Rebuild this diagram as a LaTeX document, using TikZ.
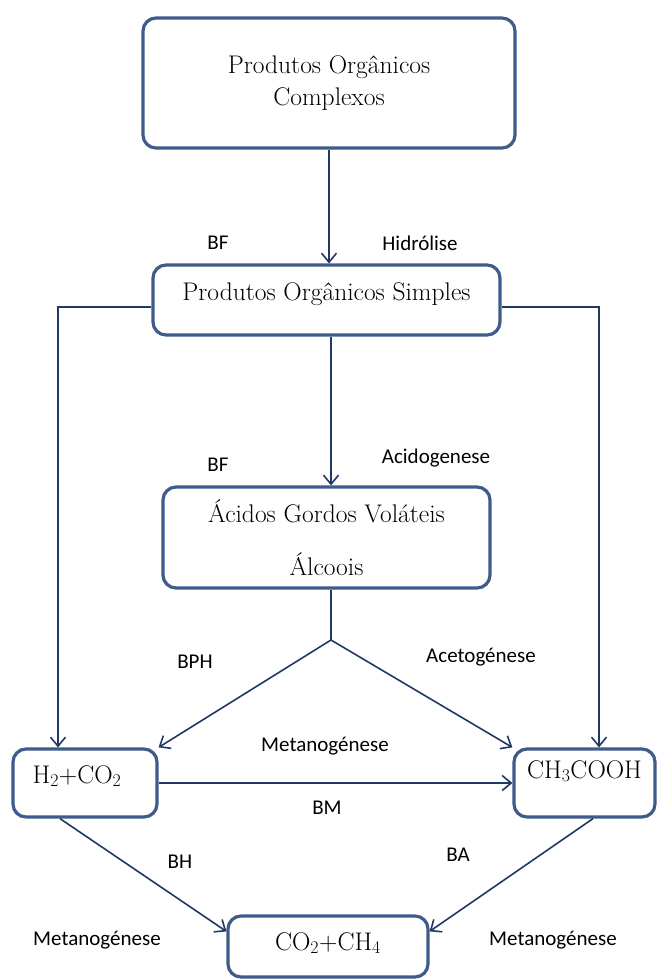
\documentclass[tikz,border=0pt]{standalone}
\usepackage{fontspec}
\newfontfamily\lblfont{Carlito}
\usepackage{xcolor}
\usetikzlibrary{arrows.meta}
\definecolor{boxblue}{RGB}{62,92,138}
\definecolor{arrowblue}{RGB}{32,56,100}

\begin{document}
\begin{tikzpicture}[x=1pt,y=-1pt,
	box/.style={draw=boxblue,line width=3.2pt,rounded corners=13pt,inner sep=0pt,align=center,font=\fontsize{25.5}{32}\selectfont},
	conn/.style={draw=arrowblue,line width=1.6pt},
	arr/.style={conn,-{Straight Barb[length=9pt,width=15pt]}},
	lbl/.style={font=\lblfont\fontsize{21}{25}\selectfont}]
		\useasboundingbox (0,0) rectangle (656,979);
		\node[box,minimum width=372pt,minimum height=130pt] (complexos) at (329,83) {Produtos Orgânicos\\Complexos};
		\node[box,minimum width=347pt,text height=35pt,text depth=35pt] (simples) at (326.5,300) {Produtos Orgânicos Simples};
		\node[box,minimum width=327pt,minimum height=101pt] (acidos) at (326.5,537.5) {Ácidos Gordos Voláteis\\[21pt]Álcoois};
		\node[box,minimum width=144pt,text height=34pt,text depth=34pt] (h2co2) at (85,783) {H\textsubscript{2}+CO\textsubscript{2}\hspace{16pt}};
		\node[box,minimum width=141pt,text height=29pt,text depth=39pt] (acetico) at (584.5,783) {CH\textsubscript{3}COOH};
		\node[box,minimum width=200pt,text height=34pt,text depth=27pt] (metano) at (328,946.5) {CO\textsubscript{2}+CH\textsubscript{4}};
		\coordinate (sl) at (58,307);
		\coordinate (sr) at (599,307);
		\coordinate (fork) at (331,640);
		\draw[arr] (complexos.south) -- (complexos.south |- simples.north);
		\draw[arr] (simples.west |- sl) -- (sl) -- (sl |- h2co2.north);
		\draw[arr] (simples.east |- sr) -- (sr) -- (sr |- acetico.north);
		\draw[arr] (simples.south -| fork) -- (acidos.north -| fork);
		\draw[conn] (acidos.south -| fork) -- (fork);
		\draw[arr] (fork) -- (h2co2.north east);
		\draw[arr] (fork) -- (acetico.north west);
		\draw[arr] (h2co2.east) -- (acetico.west);
		\draw[arr] ([xshift=-25pt]h2co2.south) -- ([yshift=-17pt]metano.north west);
		\draw[arr] ([xshift=8.5pt]acetico.south) -- ([yshift=-17pt]metano.north east);
		\node[lbl] (bf1) at (218,243) {BF};
		\node[lbl] (hidrolise) at (420,243) {Hidrólise};
		\node[lbl] (bf2) at (218,465) {BF};
		\node[lbl] (acidogenese) at (436,458) {Acidogenese};
		\node[lbl] (bph) at (195,662) {BPH};
		\node[lbl] (acetogenese) at (481,657) {Acetogénese};
		\node[lbl] (metan1) at (325,746) {Metanogénese};
		\node[lbl] (bm) at (327,808) {BM};
		\node[lbl] (bh) at (180,862) {BH};
		\node[lbl] (ba) at (458,855) {BA};
		\node[lbl] (metan2) at (97,940) {Metanogénese};
		\node[lbl] (metan3) at (553,940) {Metanogénese};
\end{tikzpicture}
\end{document}
